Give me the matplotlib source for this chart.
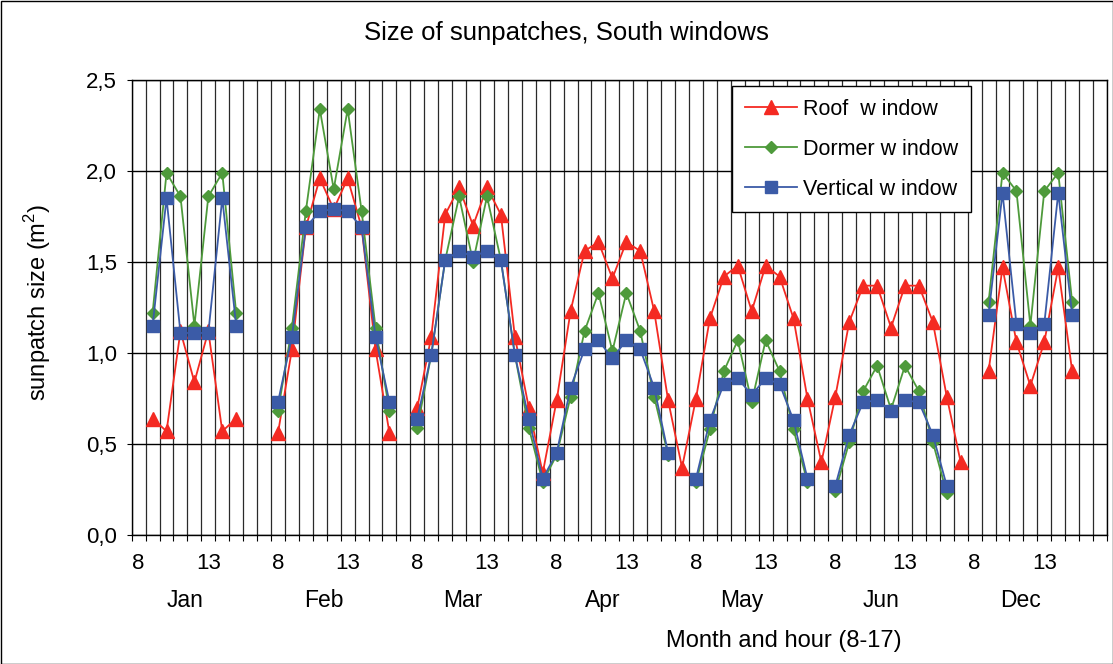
import matplotlib
matplotlib.use('Agg')
import matplotlib.pyplot as plt
import numpy as np
from matplotlib.patches import Rectangle
from matplotlib.ticker import FixedLocator, FuncFormatter, MultipleLocator

nan = np.nan

# Months on the category axis, each covering the hours 8..17
months = ['Jan', 'Feb', 'Mar', 'Apr', 'May', 'Jun', 'Dec']
hours = list(range(8, 18))
hour_labels = ['8', '13']

# Sunpatch size (m2), one row per month, hours 8..17
roof = [
    nan, 0.64, 0.57, 1.12, 0.84, 1.12, 0.57, 0.64, nan, nan,
    0.56, 1.02, 1.69, 1.96, 1.79, 1.96, 1.69, 1.02, 0.56, nan,
    0.70, 1.09, 1.76, 1.91, 1.70, 1.91, 1.76, 1.09, 0.70, 0.34,
    0.74, 1.23, 1.56, 1.61, 1.41, 1.61, 1.56, 1.23, 0.74, 0.37,
    0.75, 1.19, 1.42, 1.48, 1.23, 1.48, 1.42, 1.19, 0.75, 0.40,
    0.76, 1.17, 1.37, 1.37, 1.14, 1.37, 1.37, 1.17, 0.76, 0.40,
    nan, 0.90, 1.47, 1.06, 0.82, 1.06, 1.47, 0.90, nan, nan,
]
dormer = [
    nan, 1.22, 1.99, 1.86, 1.15, 1.86, 1.99, 1.22, nan, nan,
    0.68, 1.14, 1.78, 2.34, 1.90, 2.34, 1.78, 1.14, 0.68, nan,
    0.59, 0.99, 1.51, 1.86, 1.50, 1.86, 1.51, 0.99, 0.59, 0.29,
    0.44, 0.76, 1.12, 1.33, 1.01, 1.33, 1.12, 0.76, 0.44, nan,
    0.29, 0.58, 0.90, 1.07, 0.73, 1.07, 0.90, 0.58, 0.29, nan,
    0.24, 0.51, 0.79, 0.93, 0.69, 0.93, 0.79, 0.51, 0.23, nan,
    nan, 1.28, 1.99, 1.89, 1.15, 1.89, 1.99, 1.28, nan, nan,
]
vertical = [
    nan, 1.15, 1.85, 1.11, 1.11, 1.11, 1.85, 1.15, nan, nan,
    0.73, 1.09, 1.69, 1.78, 1.79, 1.78, 1.69, 1.09, 0.73, nan,
    0.64, 0.99, 1.51, 1.56, 1.53, 1.56, 1.51, 0.99, 0.64, 0.31,
    0.45, 0.81, 1.02, 1.07, 0.97, 1.07, 1.02, 0.81, 0.45, nan,
    0.31, 0.63, 0.83, 0.86, 0.77, 0.86, 0.83, 0.63, 0.31, nan,
    0.27, 0.55, 0.73, 0.74, 0.68, 0.74, 0.73, 0.55, 0.27, nan,
    nan, 1.21, 1.88, 1.16, 1.11, 1.16, 1.88, 1.21, nan, nan,
]

plt.rcParams['font.family'] = ['Liberation Sans', 'DejaVu Sans']
plt.rcParams['font.size'] = 16
plt.rcParams['mathtext.fontset'] = 'custom'
plt.rcParams['mathtext.rm'] = 'Liberation Sans'

W, H = 1113, 664
fig = plt.figure(figsize=(W / 100, H / 100), dpi=100)
left, right, top, bottom = 131.7, 1107, 80, 535
ax = fig.add_axes([left / W, 1 - bottom / H, (right - left) / W, (bottom - top) / H])

n = len(months) * len(hours)
x = np.arange(n) + 0.5

ax.plot(x, roof, color='#F42A22', marker='^', ms=9.6, lw=1.3, label='Roof  w indow')
ax.plot(x, dormer, color='#4E9A3B', marker='D', ms=6.6, lw=1.3, label='Dormer w indow')
ax.plot(x, vertical, color='#3B5BA7', marker='s', ms=8.4, lw=1.3, label='Vertical w indow')

ax.set_xlim(0, n)
ax.set_ylim(0, 2.5)

# y axis: 0,5 steps with decimal comma
ax.yaxis.set_major_locator(MultipleLocator(0.5))
ax.yaxis.set_major_formatter(FuncFormatter(lambda v, p: f'{v:.1f}'.replace('.', ',')))
ax.tick_params(axis='y', length=3.6, width=0.8, pad=7, color='black', labelsize=16)
ax.grid(axis='y', color='black', lw=1)

# x axis: a gridline at every hour boundary, labels at hour 8 and 13
ax.xaxis.set_minor_locator(FixedLocator(np.arange(n + 1)))
tick_pos, tick_lab = [], []
for m in range(len(months)):
    for lab in hour_labels:
        tick_pos.append(m * len(hours) + hours.index(int(lab)) + 0.5)
        tick_lab.append(lab)
ax.set_xticks(tick_pos)
ax.set_xticklabels(tick_lab)
ax.tick_params(axis='x', which='major', length=0, pad=13, labelsize=16)
ax.tick_params(axis='x', which='minor', length=4, width=0.8, direction='out')
ax.xaxis.grid(True, which='minor', color='#2a2a2a', lw=0.9)
ax.set_axisbelow(True)

for s in ax.spines.values():
    s.set_color('black')
    s.set_linewidth(1)

for m, name in enumerate(months):
    ax.text(m * len(hours) + 3.8, -0.143, name, transform=ax.get_xaxis_transform(),
            ha='center', va='center', fontsize=16.5)

fig.text(566 / W, 1 - 33 / H, 'Size of sunpatches, South windows', ha='center', va='center',
         fontsize=18.5)
fig.text(38 / W, 1 - 302 / H, 'sunpatch size (m$^2$)', rotation=90, ha='center', va='center',
         fontsize=17)
fig.text(784 / W, 1 - 641 / H, 'Month and hour (8-17)', ha='center', va='center', fontsize=17)

leg = ax.legend(loc='upper left', bbox_to_anchor=(732 / W, 1 - 85.7 / H),
                bbox_transform=fig.transFigure, frameon=True, fancybox=False,
                edgecolor='black', framealpha=1, borderpad=0.6, labelspacing=0.88,
                handlelength=2.4, handletextpad=0.3, borderaxespad=0, fontsize=15.5)
leg.get_frame().set_linewidth(1)

fig.patches.append(Rectangle((0.5 / W, 0.5 / H), (W - 1) / W, (H - 1) / H,
                             transform=fig.transFigure, fill=False, ec='black', lw=1))

fig.savefig('out.png', dpi=100)
